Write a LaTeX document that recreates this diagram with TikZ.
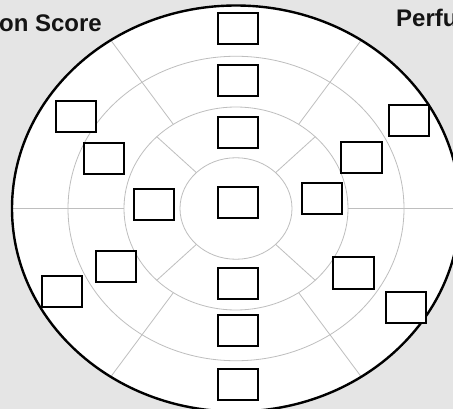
\documentclass[tikz,border=0pt]{standalone}
\usepackage{fontspec}
\setmainfont{Liberation Sans}
\definecolor{bggray}{HTML}{E5E5E5}
\definecolor{ringgray}{HTML}{BEBEBE}
\tikzset{
  scorebox/.style={draw=black,line width=2pt,fill=white,minimum width=40.5pt,minimum height=31pt,inner sep=0pt},
  ring/.style={draw=ringgray,line width=0.8pt},
  caption/.style={font=\bfseries\fontsize{24}{28}\selectfont,inner sep=0pt,text=black!92}
}
\begin{document}
\begin{tikzpicture}[x=1pt,y=-1pt]
  \useasboundingbox (0,0) rectangle (453,409);
  \clip (0,0) rectangle (453,409);
  \fill[bggray] (0,0) rectangle (453,409);
  \coordinate (o) at (236,208.5);
  \fill[white] (o) ellipse [x radius=224pt,y radius=203pt];
  \foreach \k in {1,2,3}
    \draw[ring] (o) ellipse [x radius={56pt*\k},y radius={50.75pt*\k}];
  \foreach \a in {45,135,225,315}
    \draw[ring,shift={(o)}] ({56*cos(\a)},{50.75*sin(\a)}) -- ({112*cos(\a)},{101.5*sin(\a)});
  \foreach \a in {0,56,124,180,236,304}
    \draw[ring,shift={(o)}] ({112*cos(\a)},{101.5*sin(\a)}) -- ({224*cos(\a)},{203*sin(\a)});
  \draw[line width=2.4pt] (o) ellipse [x radius=224pt,y radius=203pt];
  \foreach \n/\x/\y in {mid/238/203,up1/238/133,up2/238/81,up3/238/28.5,
      dn1/238/283,dn2/238/330.5,dn3/238/384.5,
      lf1/154/205,lf2/104/159,lf3/76/117,lf4/116/266.5,lf5/62/291,
      rt1/322/199,rt2/361.5/157.5,rt3/409/121,rt4/353.5/273,rt5/406/307}
    \node[scorebox] (\n) at (\x,\y) {};
  \node[caption,anchor=base east] (leftlabel) at (102,32) {on Score};
  \node[caption,anchor=base west] (rightlabel) at (396,27) {Perfu};
\end{tikzpicture}
\end{document}
